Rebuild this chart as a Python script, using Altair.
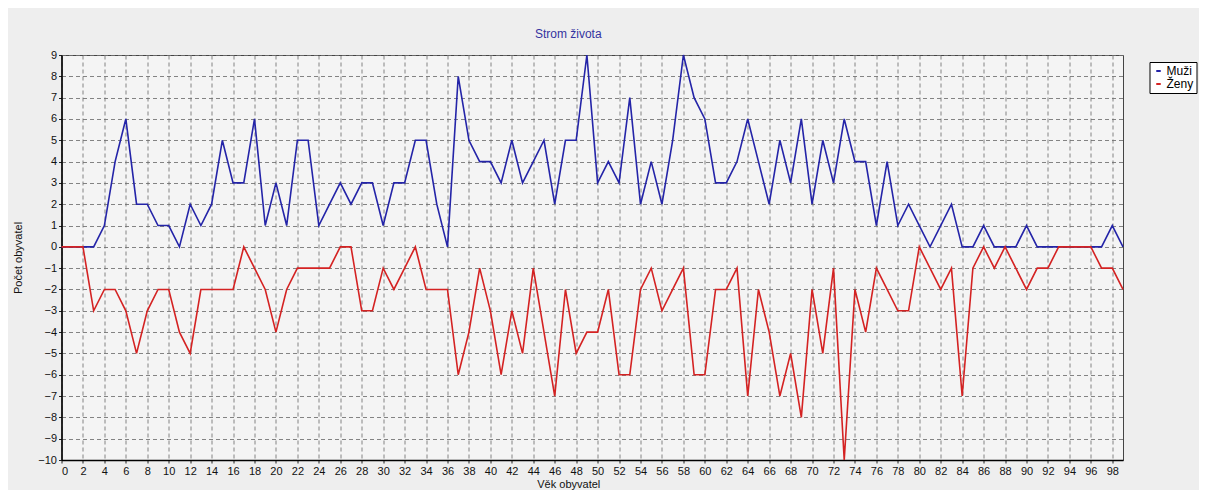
import altair as alt
import pandas as pd

ages = list(range(0, 100))
muzi = [0, 0, 0, 0, 1, 4, 6, 2, 2, 1, 1, 0, 2, 1, 2, 5, 3, 3, 6, 1,
        3, 1, 5, 5, 1, 2, 3, 2, 3, 3, 1, 3, 3, 5, 5, 2, 0, 8, 5, 4,
        4, 3, 5, 3, 4, 5, 2, 5, 5, 9, 3, 4, 3, 7, 2, 4, 2, 5, 9, 7,
        6, 3, 3, 4, 6, 4, 2, 5, 3, 6, 2, 5, 3, 6, 4, 4, 1, 4, 1, 2,
        1, 0, 1, 2, 0, 0, 1, 0, 0, 0, 1, 0, 0, 0, 0, 0, 0, 0, 1, 0]
zeny = [0, 0, 0, -3, -2, -2, -3, -5, -3, -2, -2, -4, -5, -2, -2, -2, -2, 0, -1, -2,
        -4, -2, -1, -1, -1, -1, 0, 0, -3, -3, -1, -2, -1, 0, -2, -2, -2, -6, -4, -1,
        -3, -6, -3, -5, -1, -4, -7, -2, -5, -4, -4, -2, -6, -6, -2, -1, -3, -2, -1, -6,
        -6, -2, -2, -1, -7, -2, -4, -7, -5, -8, -2, -5, -1, -10, -2, -4, -1, -2, -3, -3,
        0, -1, -2, -1, -7, -1, 0, -1, 0, -1, -2, -1, -1, 0, 0, 0, 0, -1, -1, -2]
series_names = ["Muži", "Ženy"]
series_colors = ["#2424a8", "#d42222"]
x_ticks = list(range(0, 100, 2))
y_ticks = list(range(-10, 10))

rows = []
for i, name in enumerate(series_names):
    vals = muzi if i == 0 else zeny
    for a, v in zip(ages, vals):
        rows.append({"vek": a, "pocet": v, "pohlavi": name, "ord": i})
df = pd.DataFrame(rows)

font = "Liberation Sans"
W = 1061.5
H = 405

chart = alt.Chart(df).mark_line(strokeWidth=1.6, interpolate="linear").encode(
    x=alt.X("vek:Q",
            scale=alt.Scale(domain=[0, 99], nice=False, zero=False),
            axis=alt.Axis(values=x_ticks, title="Věk obyvatel", titleX=W / 2 - 24,
                          titleY=18, titleBaseline="top", titleAnchor="middle")),
    y=alt.Y("pocet:Q",
            scale=alt.Scale(domain=[-10, 9], nice=False, zero=False),
            axis=alt.Axis(values=y_ticks, title="Počet obyvatel", titleX=-43.5,
                          titleY=H / 2, titleAngle=-90, titleBaseline="middle",
                          titleAnchor="middle")),
    color=alt.Color("pohlavi:N",
                    scale=alt.Scale(domain=series_names, range=series_colors),
                    legend=alt.Legend(title=None, orient="none", legendX=1088, legendY=7,
                                      symbolType="stroke", symbolStrokeWidth=2, symbolSize=20,
                                      fillColor="white", strokeColor="black", padding=3,
                                      labelFont=font, labelFontSize=12, labelColor="#000",
                                      rowPadding=1, symbolOffset=0, labelOffset=2)),
    order=alt.Order("ord:Q"),
    detail="pohlavi:N",
).properties(
    width=W,
    height=H,
    title=alt.TitleParams("Strom života", color="#3434a0", fontSize=12, font=font,
                          fontWeight="normal", anchor="middle", dx=-24, offset=8),
    autosize=alt.AutoSizeParams(type="none"),
    padding={"left": 53.5, "top": 47, "right": 76, "bottom": 30},
).configure(
    background="#eeeeee",
).configure_view(
    fill="#f4f4f4", stroke="#444444", strokeWidth=1,
).configure_axis(
    labelFont=font, labelFontSize=11, labelColor="#111",
    titleFont=font, titleFontSize=11, titleFontWeight="normal", titleColor="#111",
    domainColor="#000", domainWidth=1.5, tickColor="#222", tickSize=3,
    labelPadding=2, grid=True, gridColor="#6e6e6e", gridDash=[4, 3], gridWidth=1,
    gridOpacity=0.85,
)

chart.save("out.html", embed_options={"renderer": "svg", "actions": False})
